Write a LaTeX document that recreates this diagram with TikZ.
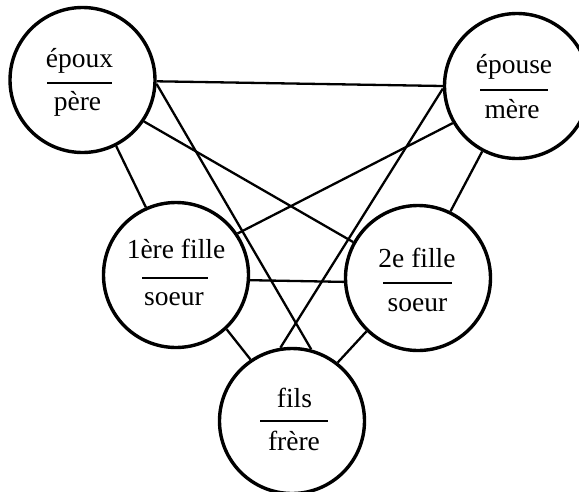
\documentclass[tikz,border=0pt]{standalone}
\usepackage{fontspec}
\setmainfont{Liberation Serif}
\begin{document}
\begin{tikzpicture}[x=1pt,y=-1pt,
  person/.style={circle, draw, line width=3.4pt, minimum size=145pt, inner sep=0pt},
  link/.style={line width=2.3pt},
  word/.style={font=\fontsize{27.5}{32}\selectfont, anchor=base, inner sep=0pt},
  bar/.style={line width=1.4pt}]
\useasboundingbox (0,0) rectangle (579,491);
% persons
\node[person] (A) at (82.5,80) {};
\node[person] (B) at (517,86) {};
\node[person] (C) at (176,275) {};
\node[person] (D) at (418,278) {};
\node[person] (E) at (292,421) {};
% labels
\node[word] (At) at (79.5,67) {époux};
\node[word] (Ab) at (77.5,110) {père};
\draw[bar] (47,83) -- (112,83);
\node[word] (Bt) at (514,73) {épouse};
\node[word] (Bb) at (512,118) {mère};
\draw[bar] (480,90) -- (548,90);
\node[word] (Ct) at (176,258) {1ère fille};
\node[word] (Cb) at (174,305) {soeur};
\draw[bar] (142,278) -- (208,278);
\node[word] (Dt) at (417,267) {2e fille};
\node[word] (Db) at (417.5,311.5) {soeur};
\draw[bar] (383,283) -- (452,283);
\node[word] (Et) at (294.5,407) {fils};
\node[word] (Eb) at (294,450) {frère};
\draw[bar] (260,421) -- (328,421);
% connectors
\draw[link] (A.-1) -- (B.180);
\draw[link] (A.-3) -- (E.75);
\draw[link] (A.-34) -- (D.151);
\draw[link] (A.-63) -- (C.114);
\draw[link] (B.210) -- (C.34);
\draw[link] (B.242) -- (D.64);
\draw[link] (B.182) -- (E.99);
\draw[link] (C.-4) -- (D.183);
\draw[link] (C.-47) -- (E.124);
\draw[link] (D.226) -- (E.52);
\end{tikzpicture}
\end{document}
